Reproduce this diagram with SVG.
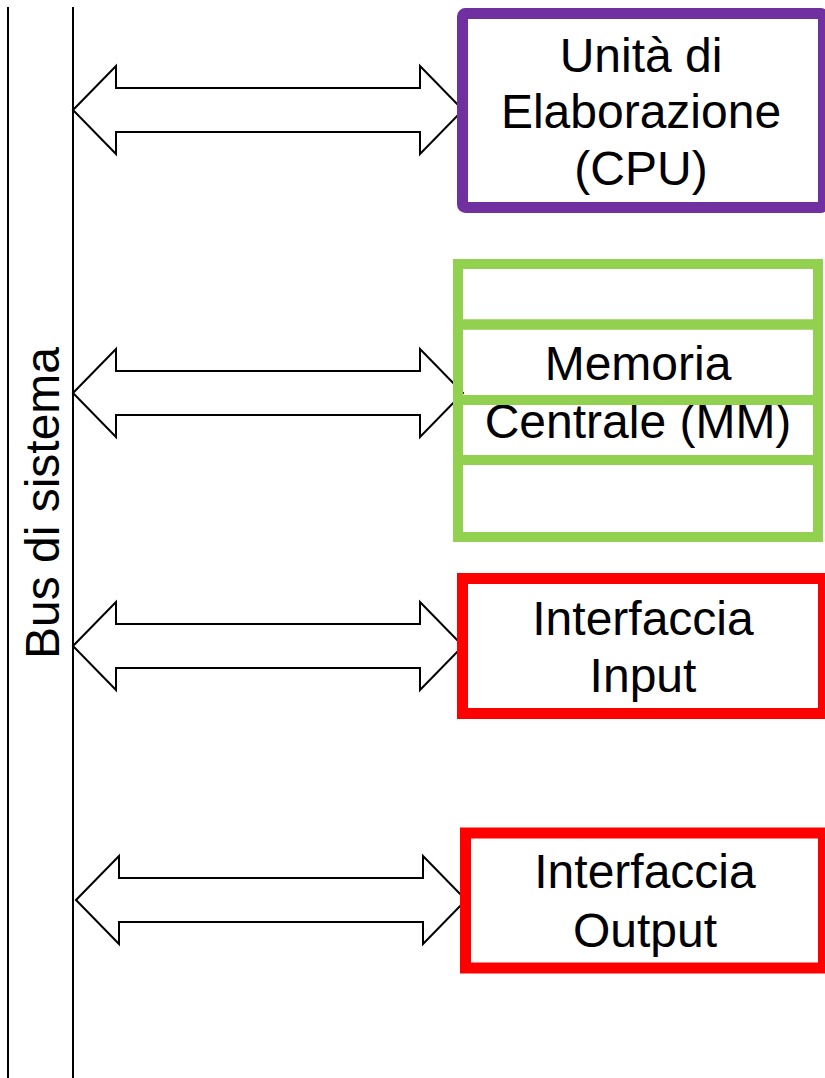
<svg xmlns="http://www.w3.org/2000/svg" width="825" height="1078" viewBox="0 0 825 1078">
  <style>
    .bus { stroke: #000; stroke-width: 2; fill: none; }
    .arrow { stroke: #000; stroke-width: 2; fill: #fff; stroke-linejoin: miter; }
    .lbl { font-family: "Liberation Sans", Arial, sans-serif; font-size: 48px; fill: #000; text-anchor: middle; }
    .cpu { fill: #fff; stroke: #7030A0; stroke-width: 11; }
    .mm { fill: none; stroke: #92D050; stroke-width: 10; }
    .io { fill: #fff; stroke: #FF0000; stroke-width: 11; }
  </style>
  <defs>
    <!-- double-headed block arrow, 390 long, centred on y=0 -->
    <path id="dblArrow" d="M0,0 L43,-44 L43,-22 L347,-22 L347,-44 L390,0 L347,44 L347,22 L43,22 L43,44 Z"/>
  </defs>
  <rect width="825" height="1078" fill="#fff"/>

  <!-- system bus -->
  <g id="bus">
    <line class="bus" x1="8" y1="7" x2="8" y2="1078"/>
    <line class="bus" x1="73" y1="7" x2="73" y2="1078"/>
    <text class="lbl" transform="translate(59,503) rotate(-90)">Bus di sistema</text>
  </g>

  <!-- connectors between bus and units -->
  <g id="connectors">
    <use href="#dblArrow" class="arrow" x="73" y="110"/>
    <use href="#dblArrow" class="arrow" x="73" y="393"/>
    <use href="#dblArrow" class="arrow" x="73" y="646"/>
    <use href="#dblArrow" class="arrow" x="76" y="900"/>
  </g>

  <g id="cpu">
    <rect class="cpu" x="462.5" y="13.5" width="361" height="194" rx="3"/>
    <text class="lbl" x="641" y="72">Unità di</text>
    <text class="lbl" x="641" y="128">Elaborazione</text>
    <text class="lbl" x="641" y="185">(CPU)</text>
  </g>

  <g id="memory">
    <text class="lbl" x="638" y="380">Memoria</text>
    <text class="lbl" x="638" y="438">Centrale (MM)</text>
    <rect class="mm" x="458" y="264" width="360" height="60.5"/>
    <rect class="mm" x="458" y="324.5" width="360" height="75.5"/>
    <rect class="mm" x="458" y="400" width="360" height="60"/>
    <rect class="mm" x="458" y="460" width="360" height="77"/>
  </g>

  <g id="input">
    <rect class="io" x="462.5" y="578.5" width="361" height="135"/>
    <text class="lbl" x="643" y="635">Interfaccia</text>
    <text class="lbl" x="643" y="692">Input</text>
  </g>

  <g id="output">
    <rect class="io" x="465.5" y="833" width="358" height="135"/>
    <text class="lbl" x="645" y="888">Interfaccia</text>
    <text class="lbl" x="645" y="947">Output</text>
  </g>
</svg>
